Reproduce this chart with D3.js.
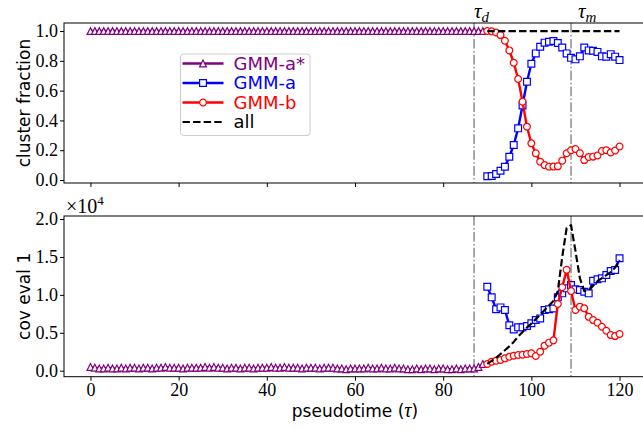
<!DOCTYPE html>
<html>
<head>
<meta charset="utf-8">
<script src="https://cdn.jsdelivr.net/npm/d3@7"></script>
<style>
  html, body { margin: 0; padding: 0; background: #fff; }
  svg { display: block; }
</style>
</head>
<body>
<svg id="chart" width="643" height="430"></svg>
<script>
// Pseudotime grid: the single-cluster stage and the split stage
const tauSingle = d3.range(0, 90);
const tauSplit = d3.range(90, 121);

// Event markers on the pseudotime axis
const tauD = 87;
const tauM = 109;

// Cluster fraction (top panel)
const fracGMMaStar = [
  1,1,1,1,1,1,1,1,1,1, 1,1,1,1,1,1,1,1,1,1,
  1,1,1,1,1,1,1,1,1,1, 1,1,1,1,1,1,1,1,1,1,
  1,1,1,1,1,1,1,1,1,1, 1,1,1,1,1,1,1,1,1,1,
  1,1,1,1,1,1,1,1,1,1, 1,1,1,1,1,1,1,1,1,1,
  1,1,1,1,1,1,1,1,1,1
];
const fracGMMa = [0.025, 0.027, 0.04, 0.062, 0.089, 0.156, 0.235, 0.347, 0.50, 0.66,
  0.78, 0.85, 0.895, 0.922, 0.928, 0.933, 0.92, 0.89, 0.85, 0.82,
  0.81, 0.83, 0.89, 0.87, 0.868, 0.86, 0.83, 0.828, 0.845, 0.828, 0.805];
const fracGMMb = [1.0, 0.998, 0.99, 0.973, 0.935, 0.87, 0.787, 0.678, 0.526, 0.358,
  0.246, 0.179, 0.123, 0.10, 0.089, 0.09, 0.092, 0.13, 0.18, 0.20,
  0.208, 0.18, 0.134, 0.155, 0.157, 0.165, 0.195, 0.20, 0.185, 0.198, 0.225];
const fracAll = [1,1,1,1,1,1,1,1,1,1, 1,1,1,1,1,1,1,1,1,1, 1,1,1,1,1,1,1,1,1,1, 1];

// First covariance eigenvalue, in units of 1e4 (bottom panel)
const covGMMaStar = [
  0.05, 0.04, 0.03, 0.03, 0.04, 0.03, 0.03, 0.04, 0.03, 0.04,
  0.04, 0.03, 0.04, 0.04, 0.03, 0.04, 0.04, 0.05, 0.04, 0.04,
  0.04, 0.03, 0.04, 0.04, 0.04, 0.04, 0.05, 0.04, 0.05, 0.04,
  0.04, 0.03, 0.04, 0.04, 0.03, 0.04, 0.04, 0.03, 0.04, 0.04,
  0.04, 0.05, 0.04, 0.04, 0.05, 0.04, 0.04, 0.04, 0.03, 0.04,
  0.04, 0.04, 0.03, 0.04, 0.04, 0.04, 0.03, 0.03, 0.02, 0.03,
  0.03, 0.03, 0.03, 0.04, 0.03, 0.03, 0.04, 0.03, 0.03, 0.04,
  0.03, 0.03, 0.02, 0.02, 0.03, 0.02, 0.03, 0.03, 0.02, 0.03,
  0.03, 0.02, 0.02, 0.03, 0.02, 0.03, 0.03, 0.03, 0.05, 0.09
];
const covGMMa = [1.107, 0.967, 0.81, 0.835, 0.80, 0.60, 0.545, 0.572, 0.572, 0.589,
  0.625, 0.668, 0.69, 0.80, 0.81, 0.82, 0.967, 1.02, 1.086, 1.13,
  1.073, 1.064, 1.042, 1.02, 1.187, 1.205, 1.218, 1.262, 1.314, 1.328, 1.482];
const covGMMb = [0.088, 0.119, 0.132, 0.141, 0.163, 0.185, 0.198, 0.207, 0.211, 0.22,
  0.229, 0.194, 0.25, 0.33, 0.37, 0.40, 0.88, 1.10, 1.33, 1.05,
  0.80, 0.844, 0.822, 0.71, 0.668, 0.633, 0.58, 0.527, 0.47, 0.457, 0.484];
const covAll = [0.09, 0.13, 0.17, 0.22, 0.27, 0.32, 0.38, 0.45, 0.51, 0.57,
  0.62, 0.68, 0.74, 0.80, 0.86, 0.92, 1.05, 1.50, 1.88, 1.92,
  1.58, 1.22, 1.05, 1.06, 1.12, 1.18, 1.22, 1.26, 1.30, 1.36, 1.46];

// Axis ticks
const xTicks = [0, 20, 40, 60, 80, 100, 120];
const fracTicks = [0.0, 0.2, 0.4, 0.6, 0.8, 1.0];
const covTicks = [0.0, 0.5, 1.0, 1.5, 2.0];

const seriesNames = ["GMM-a*", "GMM-a", "GMM-b", "all"];
const seriesColors = ["#800080", "#0000ff", "#ff0000", "#000000"];
const seriesMarkers = ["triangle", "square", "circle", null];

const svg = d3.select("#chart");
const serif = "'Liberation Serif', 'DejaVu Serif', serif";
const sans = "'DejaVu Sans', 'Liberation Sans', sans-serif";

const x = d3.scaleLinear().domain([-6, 126]).range([64, 646]);
const yTop = d3.scaleLinear().domain([-0.02, 1.054]).range([183, 23]);
const yBot = d3.scaleLinear().domain([-0.079, 2.04]).range([376.7, 216]);

const MS = 6.8; // marker size

function markerPath(kind, s) {
  const h = s / 2;
  if (kind === "triangle") return `M0,${-h}L${-h},${h}L${h},${h}Z`;
  if (kind === "square") return `M${-h},${-h}H${h}V${h}H${-h}Z`;
  if (kind === "circle") return d3.arc()({innerRadius: 0, outerRadius: h, startAngle: 0, endAngle: 2 * Math.PI});
  return "";
}

function drawSeries(g, y, xs, ys, color, marker, dashed) {
  const pts = xs.map((t, i) => [t, ys[i]]);
  g.append("path")
    .datum(pts)
    .attr("fill", "none")
    .attr("stroke", color)
    .attr("stroke-width", dashed ? 2.2 : 2.4)
    .attr("stroke-linejoin", "round")
    .attr("stroke-dasharray", dashed ? "7.4,3.2" : null)
    .attr("d", d3.line().x(d => x(d[0])).y(d => y(d[1])));
  if (marker) {
    g.selectAll(null)
      .data(pts)
      .enter()
      .append("path")
      .attr("transform", d => `translate(${x(d[0])},${y(d[1])})`)
      .attr("d", markerPath(marker, MS))
      .attr("fill", "#fff")
      .attr("stroke", color)
      .attr("stroke-width", 1.2);
  }
}

function drawPanel(y) {
  const [yb, yt] = y.range();
  const g = svg.append("g");
  const clipId = "clip" + Math.round(yt);
  svg.append("clipPath").attr("id", clipId)
    .append("rect").attr("x", 64).attr("y", yt).attr("width", 582).attr("height", yb - yt);
  const plot = g.append("g").attr("clip-path", `url(#${clipId})`);

  // event lines
  [tauD, tauM].forEach(t => {
    plot.append("line")
      .attr("x1", x(t)).attr("x2", x(t))
      .attr("y1", yt).attr("y2", yb)
      .attr("stroke", "#8c8c8c")
      .attr("stroke-width", 1.5)
      .attr("stroke-dasharray", "9.6,2.4,1.5,2.4");
  });

  return {g, plot};
}

function drawAxes(g, y, ticks, showXLabels) {
  const [yb, yt] = y.range();
  // frame
  g.append("rect")
    .attr("x", 64).attr("y", yt).attr("width", 582).attr("height", yb - yt)
    .attr("fill", "none").attr("stroke", "#000").attr("stroke-width", 1);

  const xAxis = d3.axisBottom(x).tickValues(xTicks).tickSize(4).tickPadding(3)
    .tickFormat(showXLabels ? d3.format("d") : () => "");
  const xa = g.append("g").attr("transform", `translate(0,${yb})`).call(xAxis);
  xa.select(".domain").remove();
  xa.selectAll("text").attr("font-family", serif).attr("font-size", 18).attr("fill", "#000");

  const yAxis = d3.axisLeft(y).tickValues(ticks).tickSize(4).tickPadding(2).tickFormat(d3.format(".1f"));
  const ya = g.append("g").attr("transform", "translate(64,0)").call(yAxis);
  ya.select(".domain").remove();
  ya.selectAll("text").attr("font-family", serif).attr("font-size", 18).attr("fill", "#000");
}

// Top panel: cluster fraction
const topPanel = drawPanel(yTop);
drawSeries(topPanel.plot, yTop, tauSingle, fracGMMaStar, seriesColors[0], "triangle", false);
drawSeries(topPanel.plot, yTop, tauSplit, fracGMMa, seriesColors[1], "square", false);
drawSeries(topPanel.plot, yTop, tauSplit, fracGMMb, seriesColors[2], "circle", false);
drawSeries(topPanel.plot, yTop, tauSplit, fracAll, seriesColors[3], null, true);
drawAxes(topPanel.g, yTop, fracTicks, false);

// Bottom panel: covariance eigenvalue
const botPanel = drawPanel(yBot);
drawSeries(botPanel.plot, yBot, tauSingle, covGMMaStar, seriesColors[0], "triangle", false);
drawSeries(botPanel.plot, yBot, tauSplit, covGMMa, seriesColors[1], "square", false);
drawSeries(botPanel.plot, yBot, tauSplit, covGMMb, seriesColors[2], "circle", false);
drawSeries(botPanel.plot, yBot, tauSplit, covAll, seriesColors[3], null, true);
drawAxes(botPanel.g, yBot, covTicks, true);

// Event labels above the top panel
function tauLabel(t, sub, dx) {
  const txt = svg.append("text")
    .attr("x", x(t) + dx).attr("y", 18)
    .attr("font-family", serif).attr("font-size", 21).attr("font-style", "italic");
  txt.append("tspan").text("τ");
  txt.append("tspan").attr("font-size", 15).attr("dy", 4).text(sub);
}
tauLabel(tauD, "d", 0);
tauLabel(tauM, "m", 7);

// Axis titles
svg.append("text")
  .attr("transform", `translate(24,${(yTop.range()[0] + yTop.range()[1]) / 2}) rotate(-90)`)
  .attr("text-anchor", "middle").attr("dy", "0.35em")
  .attr("font-family", sans).attr("font-size", 17)
  .text("cluster fraction");
svg.append("text")
  .attr("transform", `translate(24,${(yBot.range()[0] + yBot.range()[1]) / 2}) rotate(-90)`)
  .attr("text-anchor", "middle").attr("dy", "0.35em")
  .attr("font-family", sans).attr("font-size", 17)
  .text("cov eval 1");

const xl = svg.append("text")
  .attr("x", (64 + 646) / 2).attr("y", 417)
  .attr("text-anchor", "middle")
  .attr("font-family", sans).attr("font-size", 17);
xl.append("tspan").text("pseudotime (");
xl.append("tspan").attr("font-family", serif).attr("font-style", "italic").attr("font-size", 20).text("τ");
xl.append("tspan").text(")");

// Offset label for the bottom panel's y axis
const off = svg.append("text")
  .attr("x", 66).attr("y", 213)
  .attr("font-family", serif).attr("font-size", 20);
off.append("tspan").text("×10");
off.append("tspan").attr("font-size", 13).attr("dy", -8).text("4");

// Legend
const lg = svg.append("g").attr("transform", "translate(180.5,54)");
lg.append("rect")
  .attr("width", 129.5).attr("height", 81.5).attr("rx", 3)
  .attr("fill", "#fff").attr("fill-opacity", 0.8)
  .attr("stroke", "#cccccc").attr("stroke-width", 1);
seriesNames.forEach((name, i) => {
  const cy = 9.5 + i * 19.5;
  const row = lg.append("g").attr("transform", `translate(0,${cy})`);
  row.append("line")
    .attr("x1", 2).attr("x2", 43)
    .attr("stroke", seriesColors[i])
    .attr("stroke-width", i === 3 ? 2.2 : 2.4)
    .attr("stroke-dasharray", i === 3 ? "7.4,3.2" : null);
  if (seriesMarkers[i]) {
    row.append("path")
      .attr("transform", "translate(22.5,0)")
      .attr("d", markerPath(seriesMarkers[i], MS))
      .attr("fill", "#fff").attr("stroke", seriesColors[i]).attr("stroke-width", 1.2);
  }
  row.append("text")
    .attr("x", 53).attr("dy", "0.36em")
    .attr("font-family", sans).attr("font-size", 18)
    .attr("fill", seriesColors[i])
    .text(name);
});
</script>
</body>
</html>
